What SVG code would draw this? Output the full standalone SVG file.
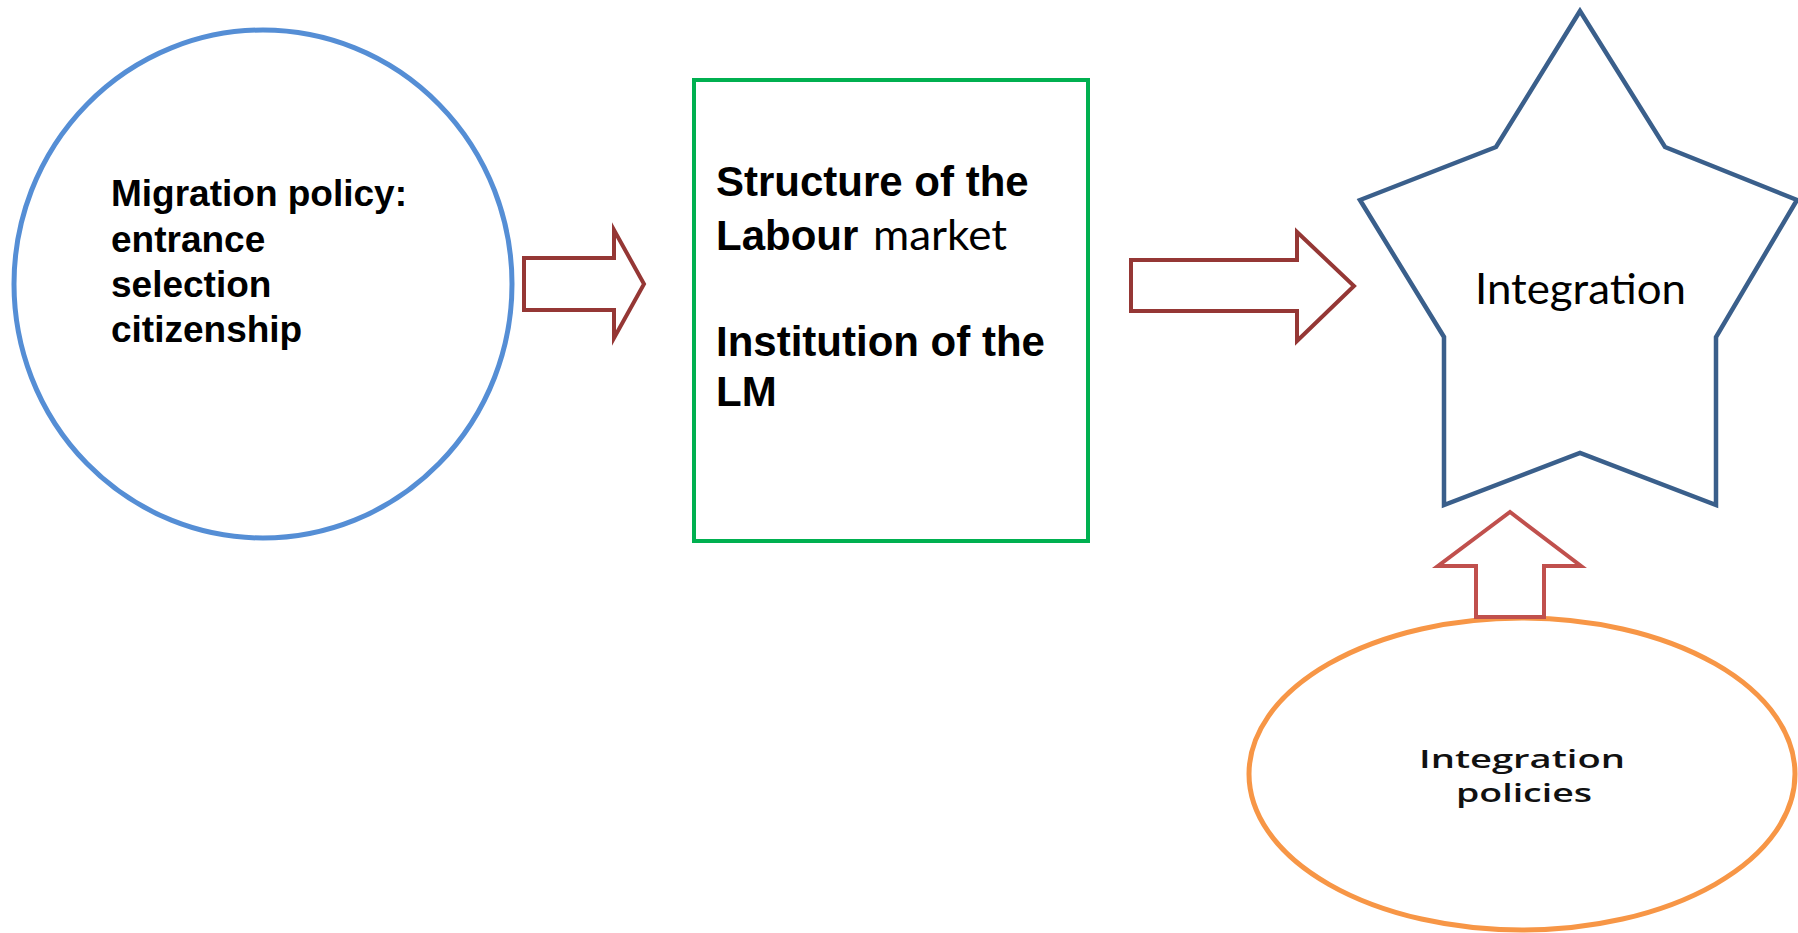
<svg xmlns="http://www.w3.org/2000/svg" width="1798" height="933" viewBox="0 0 1798 933">
<style>
.bold{font-family:"Liberation Sans",Arial,sans-serif;font-weight:bold;fill:#000}
.reg{font-family:Lato,"Open Sans",sans-serif;fill:#000}
.arrowA{fill:#fff;stroke:#953735;stroke-width:4;stroke-linejoin:miter}
.arrowB{fill:#fff;stroke:#C0504D;stroke-width:4;stroke-linejoin:miter}
</style>
<rect width="1798" height="933" fill="#fff"/>
<g id="migration-policy">
<ellipse cx="263" cy="284" rx="249" ry="254" fill="#fff" stroke="#558ED5" stroke-width="5"/>
<text class="bold" font-size="37"><tspan x="111" y="206">Migration policy:</tspan><tspan x="111" y="252">entrance</tspan><tspan x="111" y="297">selection</tspan><tspan x="111" y="342">citizenship</tspan></text>
</g>
<g id="labour-market">
<rect x="694" y="80" width="394" height="461" fill="#fff" stroke="#00B050" stroke-width="4"/>
<text class="bold" font-size="42" x="716" y="196">Structure of the</text>
<text font-size="42" y="250"><tspan class="bold" x="716">Labour</tspan><tspan class="reg" x="873" textLength="134" lengthAdjust="spacingAndGlyphs">market</tspan></text>
<text class="bold" font-size="42" x="716" y="356">Institution of the</text>
<text class="bold" font-size="42" x="716" y="406">LM</text>
</g>
<g id="integration">
<polygon points="1580,11 1496,147 1360,200 1444,337 1444,505 1580,453 1716,505 1716,337 1797,200 1665,147" fill="#fff" stroke="#3A5F8B" stroke-width="4.5" stroke-linejoin="miter"/>
<text class="reg" font-size="42" x="1475" y="304" textLength="211" lengthAdjust="spacingAndGlyphs">Integration</text>
</g>
<g id="integration-policies">
<ellipse cx="1522" cy="774" rx="273" ry="156" fill="#fff" stroke="#F79646" stroke-width="5"/>
<text font-family="'Open Sans','DejaVu Sans',sans-serif" font-size="26" font-weight="600" fill="#111" text-anchor="middle"><tspan x="1522" y="768" textLength="206" lengthAdjust="spacingAndGlyphs">Integration</tspan><tspan x="1524" y="802" textLength="136" lengthAdjust="spacingAndGlyphs">policies</tspan></text>
</g>
<g id="connectors">
<polygon class="arrowA" points="524,258 614,258 614,230 644,284 614,338 614,310 524,310"/>
<polygon class="arrowA" points="1131,260 1297,260 1297,232 1354,286 1297,341 1297,311 1131,311"/>
<polygon class="arrowB" points="1476,617 1476,566 1438,566 1510,512 1581,566 1544,566 1544,617"/>
</g>
</svg>
